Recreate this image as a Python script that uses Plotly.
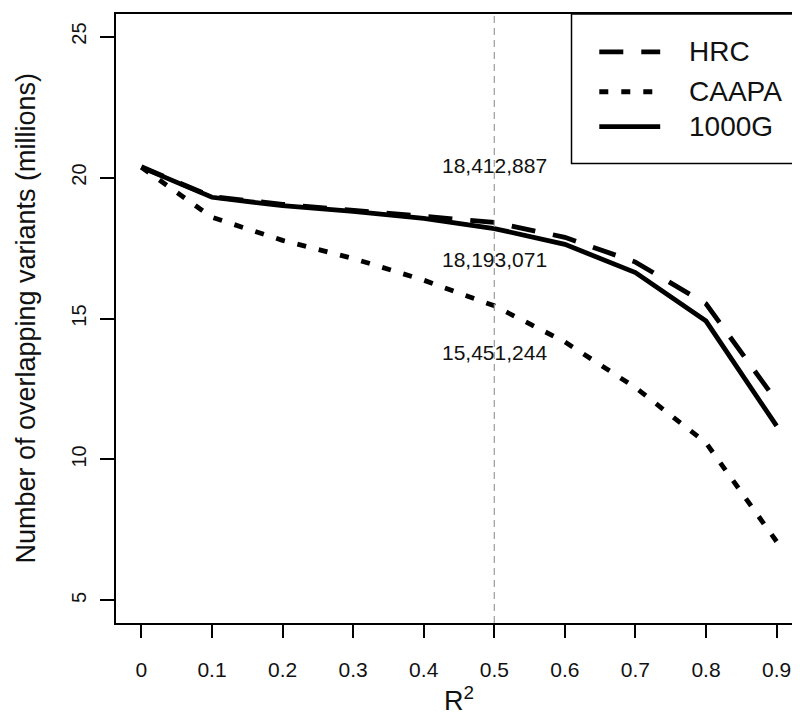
import plotly.graph_objects as go

# R^2 threshold and overlapping variants (millions)
r2 = [0, 0.1, 0.2, 0.3, 0.4, 0.5, 0.6, 0.7, 0.8, 0.9]
hrc = [20.38, 19.32, 19.05, 18.85, 18.65, 18.41, 17.88, 17.0, 15.52, 12.07]
caapa = [20.36, 18.59, 17.77, 17.13, 16.36, 15.45, 14.17, 12.55, 10.59, 7.09]
g1000 = [20.36, 19.30, 19.0, 18.8, 18.55, 18.19, 17.63, 16.63, 14.91, 11.19]

names = ["HRC", "CAAPA", "1000G"]
counts_05 = ["18,412,887", "18,193,071", "15,451,244"]

FONT = "Liberation Sans, Arial, sans-serif"
dashes = {"HRC": "24px,18px", "CAAPA": "9px,13px", "1000G": "solid"}

fig = go.Figure()
for nm, ys in zip(names, [hrc, caapa, g1000]):
    fig.add_trace(go.Scatter(x=r2, y=ys, mode="lines", name=nm,
                             line=dict(color="black", width=4.8, dash=dashes[nm]),
                             showlegend=False))

# grey dashed line at R2 = 0.5
fig.add_shape(type="line", xref="x", yref="paper", x0=0.5, x1=0.5, y0=0, y1=1,
              line=dict(color="#9a9a9a", width=1.2, dash="7px,5px"))

# counts at 0.5, label offsets from the curves
i5 = r2.index(0.5)
offs = [2.0, -1.09, -1.66]
for txt, ys, off in zip(counts_05, [hrc, g1000, caapa], offs):
    fig.add_annotation(x=0.5, y=ys[i5] + off, text=txt, showarrow=False,
                       font=dict(family=FONT, size=21, color="#111"))

# hand-drawn legend box (R style)
fig.add_shape(type="rect", xref="paper", yref="paper", x0=0.664, x1=1.0, y0=0.7545, y1=1.0,
              line=dict(color="black", width=1.5), fillcolor="white", layer="below")
leg_y = [0.9378, 0.8723, 0.815]
for nm, yy in zip(names, leg_y):
    fig.add_shape(type="line", xref="paper", yref="paper", x0=0.7045, x1=0.7933, y0=yy, y1=yy,
                  line=dict(color="black", width=4.8, dash=dashes[nm]))
    fig.add_annotation(xref="paper", yref="paper", x=0.8326, y=yy, text=nm, showarrow=False,
                       xanchor="left", yanchor="middle",
                       font=dict(family=FONT, size=28, color="#111"))

# axis titles
fig.add_annotation(xref="paper", yref="paper", x=-0.1325, y=0.5, textangle=-90,
                   text="Number of overlapping variants (millions)", showarrow=False,
                   xanchor="center", yanchor="middle", font=dict(family=FONT, size=27, color="#111"))
fig.add_annotation(xref="paper", yref="paper", x=0.5, y=-0.124, text="R<sup>2</sup>",
                   showarrow=False, xanchor="center", yanchor="middle",
                   font=dict(family=FONT, size=27, color="#111"))

fig.update_layout(
    width=800, height=717,
    margin=dict(l=108, r=5, t=4, b=102),
    plot_bgcolor="white", paper_bgcolor="white",
    font=dict(family=FONT, color="#111"),
)
fig.update_xaxes(range=[-0.036, 0.936], tickvals=r2, ticktext=["0"] + [str(v) for v in r2[1:]],
                 showgrid=False, zeroline=False, showline=True, linecolor="black", linewidth=2,
                 mirror=True, ticks="outside", ticklen=13, tickwidth=2, tickcolor="black",
                 ticklabelstandoff=14, tickfont=dict(size=21))
fig.update_yaxes(range=[4.2, 25.8], tickvals=[5, 10, 15, 20, 25], tickangle=-90,
                 showgrid=False, zeroline=False, showline=True, linecolor="black", linewidth=2,
                 mirror=True, ticks="outside", ticklen=14, tickwidth=2, tickcolor="black",
                 ticklabelstandoff=6, tickfont=dict(size=20))

fig.write_html("out.html")
